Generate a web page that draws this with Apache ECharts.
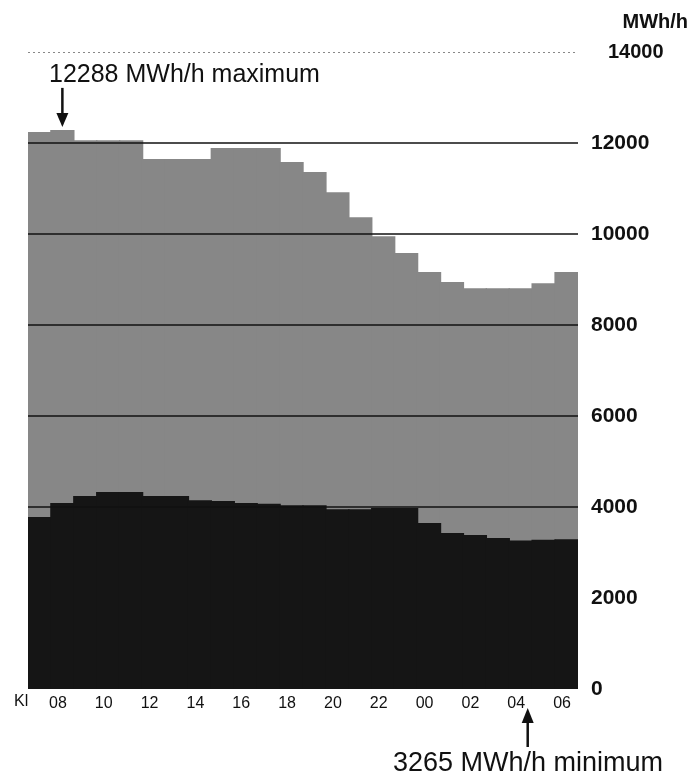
<!DOCTYPE html>
<html><head><meta charset="utf-8">
<script src="https://cdn.jsdelivr.net/npm/echarts@6/dist/echarts.min.js"></script>
<style>html,body{margin:0;padding:0;background:#fff}#c{width:689px;height:780px}</style>
</head><body><div id="c"></div>
<script>
const hours = ['07','08','09','10','11','12','13','14','15','16','17','18','19','20','21','22','23','00','01','02','03','04','05','06'];
const totalLoad = [12240,12288,12060,12060,12060,11650,11650,11650,11890,11890,11890,11580,11360,10920,10370,9950,9580,9165,8945,8810,8810,8810,8920,9165];
const baseLoad = [3780,4090,4240,4330,4330,4240,4240,4150,4130,4090,4070,4040,4040,3950,3950,3980,3980,3650,3430,3385,3320,3265,3280,3290];
const gridValues = [4000,6000,8000,10000,12000];
const topValue = 14000;
const maxHour = '08', maxValue = 12288;
const minHour = '04', minValue = 3265;
const unitText = 'MWh/h';
const maxText = '12288 MWh/h maximum';
const minText = '3265 MWh/h minimum';
const clockText = 'Kl';

const FONT = "'Liberation Sans', Arial, Helvetica, sans-serif";
const GRAY = '#878787', DARK = '#151515';
const chart = echarts.init(document.getElementById('c'), null, {renderer:'canvas'});
chart.setOption({
  animation:false,
  backgroundColor:'#ffffff',
  grid:{left:28, right:111, top:52, bottom:91, containLabel:false},
  xAxis:{
    type:'category', data:hours, boundaryGap:true,
    axisLine:{show:false}, axisTick:{show:false},
    axisLabel:{
      interval:(i)=> i % 2 === 1,
      color:'#111', fontFamily:FONT, fontSize:16, margin:7,
      padding:[0,9,0,0]
    }
  },
  yAxis:{
    type:'value', position:'right', min:0, max:topValue, interval:2000,
    axisLine:{show:false}, axisTick:{show:false}, splitLine:{show:false},
    axisLabel:{
      color:'#111', fontFamily:FONT, fontSize:21, fontWeight:'bold', margin:13, align:'left',
      formatter:(v)=> v === topValue ? '{t|' + v + '}' : String(v),
      rich:{t:{fontFamily:FONT, fontSize:20, fontWeight:'bold', color:'#111', padding:[0,0,0,17]}}
    }
  },
  series:[
    {
      type:'bar', name:'total', data:totalLoad, barWidth:'106%', barGap:'-100%',
      itemStyle:{color:GRAY}, z:2
    },
    {
      type:'bar', name:'base', data:baseLoad, barWidth:'106%', barGap:'-100%',
      itemStyle:{color:DARK}, z:3,
      markLine:{
        silent:true, symbol:'none', label:{show:false},
        data: gridValues.map(v=>({yAxis:v, lineStyle:{color:'#111', width:1.6, type:'solid'}}))
          .concat([{yAxis:topValue, lineStyle:{color:'#888', width:1, type:[2,3]}}])
      }
    }
  ]
});

const pMax = chart.convertToPixel({gridIndex:0}, [maxHour, maxValue]);
const pMin = chart.convertToPixel({gridIndex:0}, [minHour, 0]);
const ax = pMax[0], tip = pMax[1] - 3;
const mx = pMin[0] + 7, mtip = pMin[1] + 19;
chart.setOption({
  graphic:[
    {type:'text', right:1, top:12, style:{text:unitText, font:'bold 20px ' + FONT, fill:'#111'}},
    {type:'text', left:49, top:63, style:{text:maxText, font:'25px ' + FONT, fill:'#111'}},
    {type:'line', shape:{x1:ax, y1:tip-39, x2:ax, y2:tip-12}, style:{stroke:'#111', lineWidth:2.5}},
    {type:'polygon', shape:{points:[[ax-6,tip-14],[ax+6,tip-14],[ax,tip]]}, style:{fill:'#111'}},
    {type:'text', left:14, top:pMin[1]+5, style:{text:clockText, font:'16px ' + FONT, fill:'#111'}},
    {type:'polygon', shape:{points:[[mx-6,mtip+15],[mx+6,mtip+15],[mx,mtip]]}, style:{fill:'#111'}},
    {type:'line', shape:{x1:mx, y1:mtip+13, x2:mx, y2:mtip+39}, style:{stroke:'#111', lineWidth:2.5}},
    {type:'text', left:393, top:mtip+42, style:{text:minText, font:'27px ' + FONT, fill:'#111'}}
  ]
});
</script></body></html>
